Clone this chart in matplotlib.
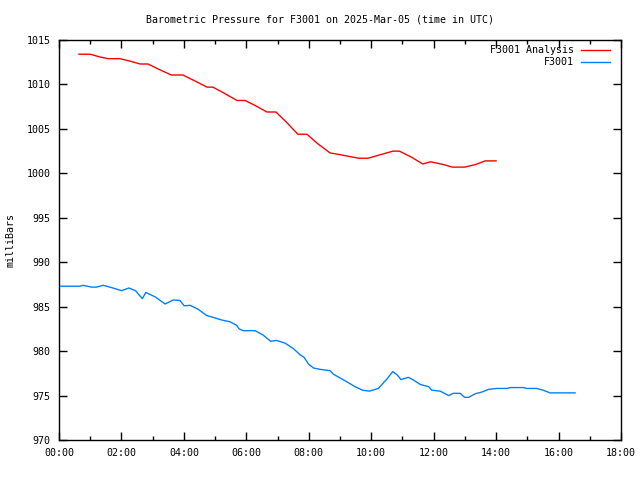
import matplotlib
matplotlib.use("Agg")
import matplotlib.pyplot as plt
from matplotlib.ticker import MultipleLocator, FuncFormatter

# Data (time in hours UTC, pressure in mbar)
analysis_t = [0.64, 1.0, 1.3, 1.57, 1.95, 2.3, 2.6, 2.85, 3.2, 3.6, 3.97, 4.35, 4.74, 4.93,
              5.3, 5.7, 5.96, 6.3, 6.66, 6.95, 7.3, 7.65, 7.94, 8.3, 8.68, 9.0, 9.3,
              9.6, 9.9, 10.3, 10.7, 10.9, 11.3, 11.65, 11.9, 12.3, 12.6, 13.0, 13.35, 13.65, 14.0]
analysis_p = [1013.4, 1013.4, 1013.1, 1012.9, 1012.9, 1012.6, 1012.3, 1012.3, 1011.7, 1011.06, 1011.06,
              1010.4, 1009.7, 1009.7, 1009.0, 1008.2, 1008.2, 1007.6, 1006.9, 1006.9, 1005.7,
              1004.4, 1004.4, 1003.3, 1002.3, 1002.1, 1001.9, 1001.7, 1001.7, 1002.1, 1002.5, 1002.5,
              1001.8, 1001.05, 1001.3, 1001.0, 1000.7, 1000.7, 1001.0, 1001.4, 1001.4]

station_t = [0.06, 0.67, 0.78, 1.04, 1.2, 1.42, 1.73, 2.0, 2.24, 2.45, 2.67, 2.78, 3.08, 3.4,
             3.66, 3.87, 4.01, 4.2, 4.46, 4.73, 4.89, 5.21, 5.48, 5.69, 5.77, 5.9, 6.28,
             6.54, 6.78, 6.97, 7.24, 7.5, 7.72, 7.85, 7.99, 8.15, 8.36, 8.68, 8.79, 9.22,
             9.48, 9.73, 9.94, 10.23, 10.5, 10.69, 10.84, 10.95, 11.19, 11.35, 11.57, 11.84,
             11.94, 12.21, 12.48, 12.63, 12.85, 12.99, 13.12, 13.33, 13.55, 13.76, 14.03,
             14.35, 14.45, 14.88, 14.98, 15.3, 15.51, 15.73, 16.53]
station_p = [987.3, 987.3, 987.4, 987.2, 987.2, 987.4, 987.1, 986.8, 987.1, 986.8, 985.9, 986.6,
             986.1, 985.3, 985.75, 985.7, 985.1, 985.15, 984.7, 984.0, 983.85, 983.5, 983.3,
             982.9, 982.5, 982.3, 982.3, 981.8, 981.1, 981.2, 980.9, 980.3, 979.6, 979.3,
             978.55, 978.1, 977.95, 977.8, 977.4, 976.55, 976.0, 975.6, 975.5, 975.8, 976.85,
             977.7, 977.3, 976.8, 977.05, 976.75, 976.25, 976.0, 975.6, 975.5, 975.0, 975.25,
             975.25, 974.8, 974.8, 975.2, 975.4, 975.7, 975.8, 975.8, 975.9, 975.9, 975.8,
             975.8, 975.6, 975.3, 975.3]

title = "Barometric Pressure for F3001 on 2025-Mar-05 (time in UTC)"
ylabel = "milliBars"
label_analysis = "F3001 Analysis"
label_station = "F3001"

plt.rcParams['font.family'] = ['DejaVu Sans Mono']
plt.rcParams['font.size'] = 7.2

fig = plt.figure(figsize=(6.4, 4.8), dpi=100)
ax = fig.add_axes([59/640, 40/480, 562/640, 400/480])

ax.plot(analysis_t, analysis_p, color='#ff0000', lw=1.0, label=label_analysis)
ax.plot(station_t, station_p, color='#0080ff', lw=1.0, label=label_station)

ax.set_xlim(0, 18)
ax.set_ylim(970, 1015)
ax.xaxis.set_major_locator(MultipleLocator(2))
ax.xaxis.set_minor_locator(MultipleLocator(1))
ax.yaxis.set_major_locator(MultipleLocator(5))
ax.xaxis.set_major_formatter(FuncFormatter(lambda v, p: "%02d:00" % int(round(v))))
ax.tick_params(which='both', direction='in', top=True, right=True, width=1, colors='black')
ax.tick_params(which='major', length=6, pad=6)
ax.tick_params(which='minor', length=3)
for s in ax.spines.values():
    s.set_linewidth(1)

ax.set_ylabel(ylabel)
ax.yaxis.set_label_coords(-0.078, 0.5)
fig.text(0.5, 1 - 19/480, title, ha='center', va='center')

leg = ax.legend(loc='upper right', bbox_to_anchor=(0.9875, 0.997), frameon=False,
                markerfirst=False, handlelength=2.9, borderaxespad=0.0,
                labelspacing=0.2, handletextpad=0.7)
for t in leg.get_texts():
    t.set_ha('right')

fig.savefig("out.png", dpi=100)
